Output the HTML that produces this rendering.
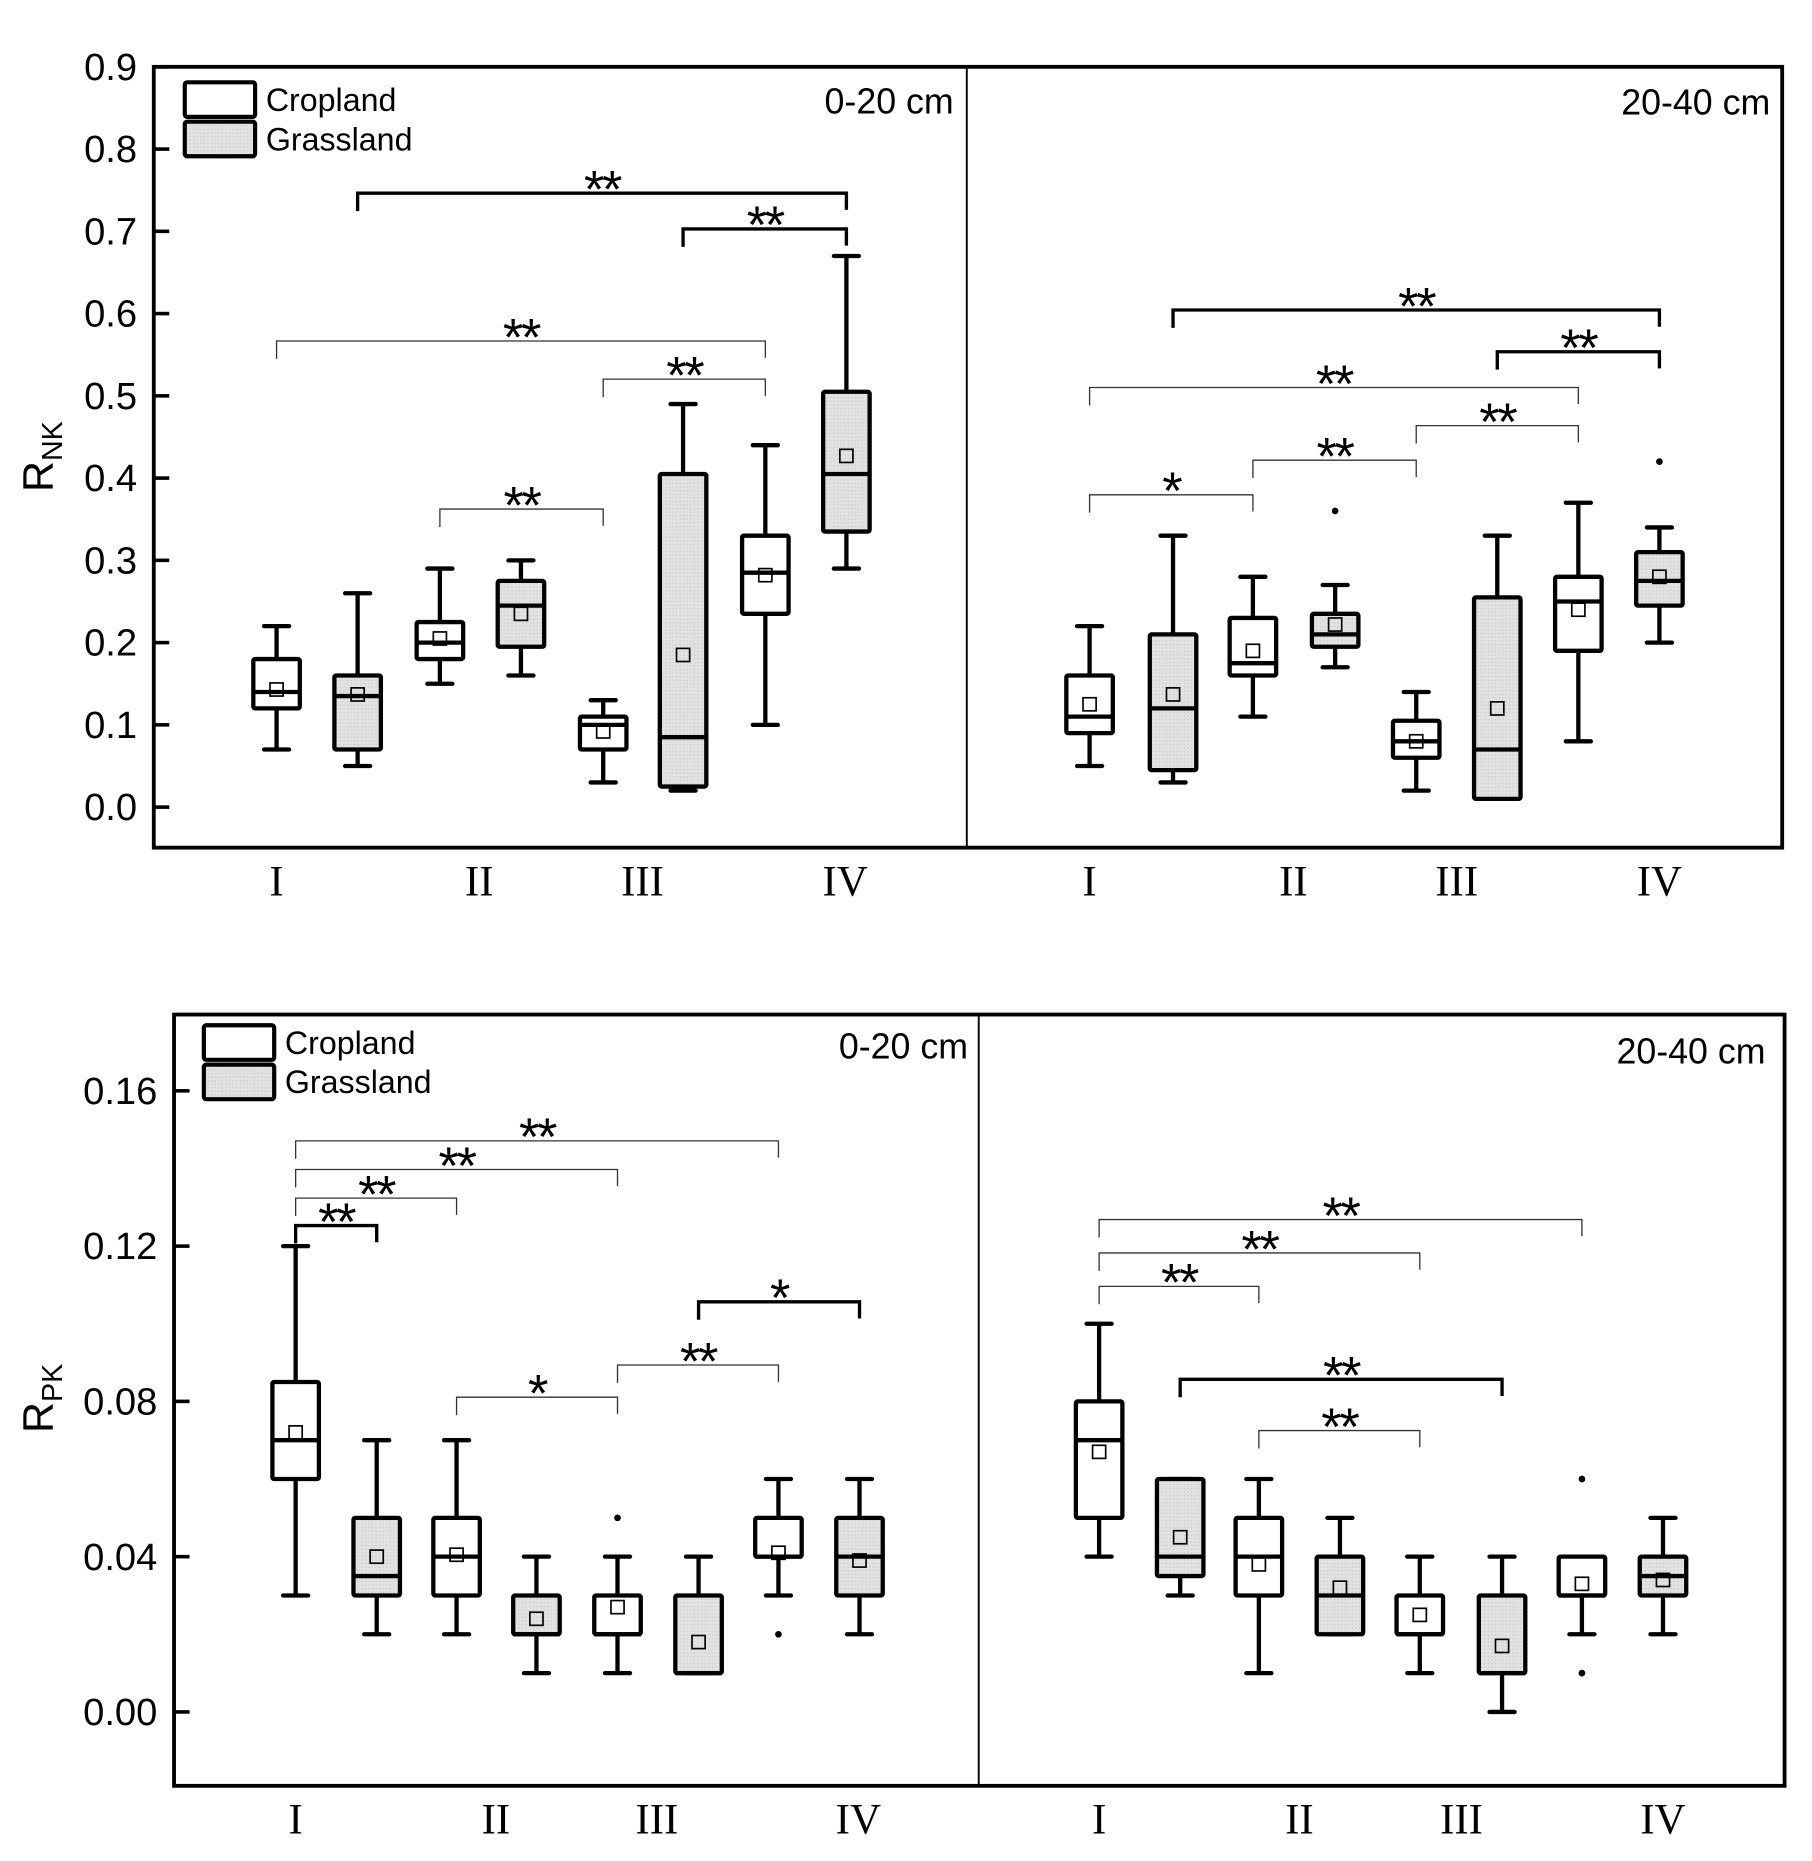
<!DOCTYPE html>
<html><head><meta charset="utf-8"><style>
html,body{margin:0;padding:0;background:#fff;}
svg{display:block;}
text{font-family:"Liberation Sans",sans-serif;fill:#000;}
.roman{font-family:"Liberation Serif",serif;}
</style></head><body>
<svg id="chart" width="1812" height="1861" viewBox="0 0 1520 1561" xmlns="http://www.w3.org/2000/svg">
<defs>
<pattern id="dots" width="3" height="3" patternUnits="userSpaceOnUse">
<rect width="3" height="3" fill="#e2e2e2"/><rect width="1" height="1" fill="#c8c8c8"/>
</pattern>
</defs>
</svg>
<script>
// ---- data ----
const categories = ["I","II","III","IV"];
const groups = ["Cropland","Grassland"];
// each box: [whiskerLow, q1, median, q3, whiskerHigh, mean]
const nk0_20 = [[0.07,0.12,0.14,0.18,0.22,0.143],[0.05,0.07,0.135,0.16,0.26,0.137],
 [0.15,0.18,0.20,0.225,0.29,0.205],[0.16,0.195,0.245,0.275,0.30,0.235],
 [0.03,0.07,0.10,0.11,0.13,0.092],[0.02,0.025,0.085,0.405,0.49,0.185],
 [0.10,0.235,0.285,0.33,0.44,0.282],[0.29,0.335,0.405,0.505,0.67,0.427]];
const nk20_40 = [[0.05,0.09,0.11,0.16,0.22,0.125],[0.03,0.045,0.12,0.21,0.33,0.137],
 [0.11,0.16,0.175,0.23,0.28,0.19],[0.17,0.195,0.21,0.235,0.27,0.222],
 [0.02,0.06,0.08,0.105,0.14,0.08],[0.01,0.01,0.07,0.255,0.33,0.12],
 [0.08,0.19,0.25,0.28,0.37,0.24],[0.20,0.245,0.275,0.31,0.34,0.28]];
const nk20_40_outliers = [[3,0.36],[7,0.42]];
const pk0_20 = [[0.03,0.06,0.07,0.085,0.12,0.072],[0.02,0.03,0.035,0.05,0.07,0.04],
 [0.02,0.03,0.04,0.05,0.07,0.0405],[0.01,0.02,0.02,0.03,0.04,0.024],
 [0.01,0.02,0.02,0.03,0.04,0.027],[0.01,0.01,0.01,0.03,0.04,0.018],
 [0.03,0.04,0.04,0.05,0.06,0.041],[0.02,0.03,0.04,0.05,0.06,0.039]];
const pk0_20_outliers = [[4,0.05],[6,0.02]];
const pk20_40 = [[0.04,0.05,0.07,0.08,0.10,0.067],[0.03,0.035,0.04,0.06,0.06,0.045],
 [0.01,0.03,0.04,0.05,0.06,0.038],[0.02,0.02,0.03,0.04,0.05,0.032],
 [0.01,0.02,0.02,0.03,0.04,0.025],[0.00,0.01,0.01,0.03,0.04,0.017],
 [0.02,0.03,0.03,0.04,0.04,0.033],[0.02,0.03,0.035,0.04,0.05,0.034]];
const pk20_40_outliers = [[6,0.06],[6,0.01]];
const nkTicks = [0.0,0.1,0.2,0.3,0.4,0.5,0.6,0.7,0.8,0.9];
const pkTicks = [0.00,0.04,0.08,0.12,0.16];
// brackets: [fromBox, toBox, yPixel, label, thick]
const nkBr0 = [[1,7,162,"**",1],[5,7,192,"**",1],[0,6,286,"**",0],[4,6,318,"**",0],[2,4,427,"**",0]];
const nkBr1 = [[1,7,260,"**",1],[5,7,295,"**",1],[0,6,325,"**",0],[4,6,357,"**",0],[2,4,386,"**",0],[0,2,415,"*",0]];
const pkBr0 = [[0,6,957,"**",0],[0,4,981,"**",0],[0,2,1005,"**",0],[0,1,1028,"**",1],[2,4,1172,"*",0],[4,6,1145,"**",0],[5,7,1092,"*",1]];
const pkBr1 = [[0,6,1023,"**",0],[0,4,1051,"**",0],[0,2,1079,"**",0],[1,5,1157,"**",1],[2,4,1200,"**",0]];

const svg = document.getElementById('chart');
const NS = "http://www.w3.org/2000/svg";
function mk(tag, attrs, parent){const e=document.createElementNS(NS,tag);for(const k in attrs)e.setAttribute(k,attrs[k]);(parent||svg).appendChild(e);return e;}
function txt(x,y,s,size,anchor,cls,parent){const t=mk('text',{x:x,y:y,'font-size':size,'text-anchor':anchor||'middle'},parent);if(cls)t.setAttribute('class',cls);t.textContent=s;return t;}

function panel(cfg){
  const g=mk('g',{});
  
  
  const yS=v=>cfg.y0+(v-cfg.vmin)*(cfg.y1-cfg.y0)/(cfg.vmax-cfg.vmin);
  const W=39, cap=21;
  const fr=mk('rect',{x:cfg.L,y:cfg.T,width:cfg.R-cfg.L,height:cfg.B-cfg.T,fill:'none',stroke:'#000','stroke-width':3.2},g);
  
  
  const dv=mk('line',{x1:cfg.M,x2:cfg.M,y1:cfg.T,y2:cfg.B,stroke:'#000','stroke-width':1.6},g);
  
  
  cfg.ticks.forEach(v=>{
    const y=yS(v);
    const tk=mk('line',{x1:cfg.L,x2:cfg.L+13,y1:y,y2:y,stroke:'#000','stroke-width':3},g);
    
    
    const tl=txt(cfg.L-14,y+11,v.toFixed(cfg.dec),32,'end',null,g);
    
    
  });
  const yt=mk('text',{transform:`translate(${44},${cfg.ylabY}) rotate(-90)`,'font-size':36,'text-anchor':'middle'},g);
  
  
  yt.innerHTML='R<tspan font-size="24" dy="8">'+cfg.sub+'</tspan>';
  [[0,'#fff','Cropland'],[1,'url(#dots)','Grassland']].forEach(([i,f,s])=>{
    const r=mk('rect',{x:cfg.legX,y:cfg.legY+i*33,width:59,height:29,fill:f,stroke:'#000','stroke-width':3.5,rx:2},g);
    
    
    const t=txt(cfg.legX+68,cfg.legY+i*33+24,s,27,'start',null,g);
    
    
  });
  cfg.sides.forEach((side,si)=>{
    const dl=txt(side.depthX,side.depthY,side.depth,30,'end',null,g);
    
    
    categories.forEach((c,ci)=>{
      const cl=txt(side.catX[ci],cfg.catY,c,36,'middle','roman',g);
      
      
    });
    side.data.forEach((d,i)=>{
      const x=side.xs[i];
      const bg=mk('g',{},g);
      
      
      const sw=3.6;
      mk('line',{x1:x,x2:x,y1:yS(d[0]),y2:yS(d[4]),stroke:'#000','stroke-width':sw},bg);
      mk('line',{x1:x-cap/2,x2:x+cap/2,y1:yS(d[0]),y2:yS(d[0]),stroke:'#000','stroke-width':sw,'stroke-linecap':'round'},bg);
      mk('line',{x1:x-cap/2,x2:x+cap/2,y1:yS(d[4]),y2:yS(d[4]),stroke:'#000','stroke-width':sw,'stroke-linecap':'round'},bg);
      mk('rect',{x:x-W/2,y:yS(d[3]),width:W,height:Math.max(0.5,yS(d[1])-yS(d[3])),fill:i%2?'url(#dots)':'#fff',stroke:'#000','stroke-width':sw,rx:1.5},bg);
      mk('line',{x1:x-W/2,x2:x+W/2,y1:yS(d[2]),y2:yS(d[2]),stroke:'#000','stroke-width':sw},bg);
      mk('rect',{x:x-5.5,y:yS(d[5])-5.5,width:11,height:11,fill:'none',stroke:'#000','stroke-width':1.4},bg);
    });
    side.out.forEach(([i,v])=>{
      const o=mk('circle',{cx:side.xs[i],cy:yS(v),r:2.8,fill:'#000'},g);
      
      
    });
    side.br.forEach(([a,b,y,lab,thick])=>{
      const xa=side.xs[a], xb=side.xs[b];
      const sw=thick?2.8:1.1;
      const p=mk('path',{d:`M${xa},${y+15} V${y} H${xb} V${y+14}`,fill:'none',stroke:thick?'#000':'#333','stroke-width':sw},g);
      
      
      const st=txt((xa+xb)/2,y+12,lab,44,'middle',null,g);
      st.setAttribute('letter-spacing','-2');
      
      
    });
  });
}
panel({name:'rnk-panel',L:129,R:1495,T:56,B:711,M:811,vmin:0,vmax:0.9,y0:677,y1:56,ticks:nkTicks,dec:1,sub:'NK',ylabY:383,legX:155,legY:69,catY:751,
 sides:[{xs:[232,300,369,437,506,573,642,710],catX:[232,402,539,709],data:nk0_20,out:[],br:nkBr0,depth:'0-20 cm',depthX:800,depthY:95},
        {xs:[914,984,1051,1120,1188,1256,1324,1392],catX:[914,1085,1222,1392],data:nk20_40,out:nk20_40_outliers,br:nkBr1,depth:'20-40 cm',depthX:1485,depthY:96}]});
panel({name:'rpk-panel',L:146,R:1497,T:851,B:1498,M:821,vmin:0,vmax:0.16,y0:1436,y1:915,ticks:pkTicks,dec:2,sub:'PK',ylabY:1173,legX:171,legY:860,catY:1538,
 sides:[{xs:[248,316,383,450,518,586,653,721],catX:[248,416,551,720],data:pk0_20,out:pk0_20_outliers,br:pkBr0,depth:'0-20 cm',depthX:812,depthY:888},
        {xs:[922,990,1056,1124,1191,1260,1327,1395],catX:[922,1090,1226,1395],data:pk20_40,out:pk20_40_outliers,br:pkBr1,depth:'20-40 cm',depthX:1481,depthY:892}]});
</script>
</body></html>
